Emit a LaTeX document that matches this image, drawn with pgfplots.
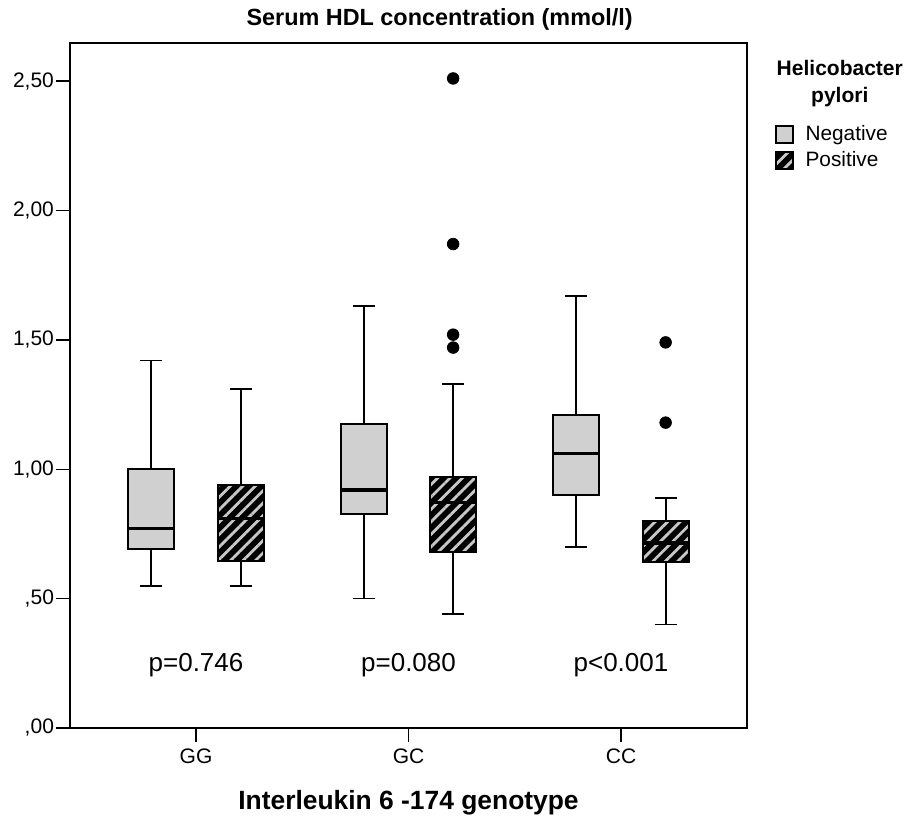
\documentclass[border=0pt]{standalone}
\usepackage{pgfplots}
\pgfplotsset{compat=1.18}
\usepgfplotslibrary{statistics}
\usetikzlibrary{patterns.meta}
\usepackage{fontspec}
\setmainfont{Liberation Sans}
\definecolor{boxgray}{RGB}{208,208,208}
\definecolor{stripegray}{RGB}{200,200,200}
\tikzset{
  negbox/.style={draw=black, line width=1pt, fill=boxgray},
  posbox/.style={draw=black, line width=1pt, fill=black,
    postaction={pattern={Lines[angle=45,distance=4.4pt,line width=1.4pt]}, pattern color=stripegray},
    postaction={draw=black, line width=1pt}},
}
\pgfplotsset{
  neg/.style={boxplot/every box/.style={negbox}},
  pos/.style={boxplot/every box/.style={posbox}},
}
\begin{document}
\begin{tikzpicture}
\begin{axis}[
  name=ax,
  scale only axis,
  width=338.5pt, height=342.5pt,
  xmin=0.407, xmax=3.593,
  ymin=0, ymax=2.647,
  axis line style={line width=0.8pt},
  tick pos=left,
  tick align=outside,
  major tick length=7pt,
  tick style={line width=0.7pt, black},
  xtick={1,2,3},
  xticklabels={GG,GC,CC},
  ytick={0,0.5,1,1.5,2,2.5},
  yticklabels={{,00},{,50},{1,00},{1,50},{2,00},{2,50}},
  ticklabel style={font=\fontsize{10.5}{12}\selectfont},
  yticklabel style={xshift=2.5pt},
  title={Serum HDL concentration (mmol/l)},
  title style={font=\bfseries\fontsize{11.7}{14}\selectfont, at={(axis description cs:0.546,1)}, anchor=center, yshift=6pt},
  xlabel={Interleukin 6 -174 genotype},
  xlabel style={font=\bfseries\fontsize{13.2}{15}\selectfont, at={(axis description cs:0.5,0)}, anchor=center, yshift=-37.5pt},
  boxplot/draw direction=y,
  boxplot/box extend=0.216,
  boxplot/whisker extend=0.104,
  boxplot/every whisker/.style={black, line width=0.9pt},
  boxplot/every median/.style={black, line width=1.6pt},
  legend style={draw=none, fill=none, at={(axis description cs:1.041,0.886)}, anchor=north west,
    inner sep=0pt, row sep=0pt, font=\fontsize{10.4}{12}\selectfont},
  legend cell align=left,
  clip=false,
]
\addlegendimage{legend image code/.code={\draw[negbox, line width=0.7pt] (0pt,-4.2pt) rectangle (8.5pt,4.3pt); \path (12.5pt,0pt);}}
\addlegendentry{Negative}
\addlegendimage{legend image code/.code={\draw[posbox, line width=0.7pt] (0pt,-4.2pt) rectangle (8.5pt,4.3pt); \path (12.5pt,0pt);}}
\addlegendentry{Positive}

% GG
\addplot[neg, forget plot, mark=*, mark size=2.9pt, mark options={fill=black, draw=black},
  boxplot prepared={draw position=0.79, lower whisker=0.55, lower quartile=0.69, median=0.77, upper quartile=1.00, upper whisker=1.42}]
  coordinates {};
\addplot[pos, forget plot, mark=*, mark size=2.9pt, mark options={fill=black, draw=black},
  boxplot prepared={draw position=1.21, lower whisker=0.55, lower quartile=0.645, median=0.81, upper quartile=0.94, upper whisker=1.31}]
  coordinates {};
% GC
\addplot[neg, forget plot, mark=*, mark size=2.9pt, mark options={fill=black, draw=black},
  boxplot prepared={draw position=1.79, lower whisker=0.50, lower quartile=0.825, median=0.92, upper quartile=1.175, upper whisker=1.63}]
  coordinates {};
\addplot[pos, forget plot, mark=*, mark size=2.9pt, mark options={fill=black, draw=black},
  boxplot prepared={draw position=2.21, lower whisker=0.44, lower quartile=0.68, median=0.87, upper quartile=0.97, upper whisker=1.33}]
  coordinates {(0,2.51) (0,1.87) (0,1.52) (0,1.47)};
% CC
\addplot[neg, forget plot, mark=*, mark size=2.9pt, mark options={fill=black, draw=black},
  boxplot prepared={draw position=2.79, lower whisker=0.70, lower quartile=0.90, median=1.06, upper quartile=1.21, upper whisker=1.67}]
  coordinates {};
\addplot[pos, forget plot, mark=*, mark size=2.9pt, mark options={fill=black, draw=black},
  boxplot prepared={draw position=3.21, lower whisker=0.40, lower quartile=0.64, median=0.715, upper quartile=0.80, upper whisker=0.89}]
  coordinates {(0,1.49) (0,1.18)};

\node[font=\fontsize{13}{15}\selectfont] at (axis cs:1,0.243) {p=0.746};
\node[font=\fontsize{13}{15}\selectfont] at (axis cs:2,0.243) {p=0.080};
\node[font=\fontsize{13}{15}\selectfont] at (axis cs:3,0.243) {p<0.001};
\node[font=\bfseries\fontsize{10.5}{13.5}\selectfont, align=center] at (axis description cs:1.137,0.941) {Helicobacter\\pylori};
\end{axis}
\pgfresetboundingbox
\path[use as bounding box] ([xshift=-35pt,yshift=-44pt]ax.south west) rectangle ([xshift=81pt,yshift=21.5pt]ax.north east);
\end{tikzpicture}
\end{document}
